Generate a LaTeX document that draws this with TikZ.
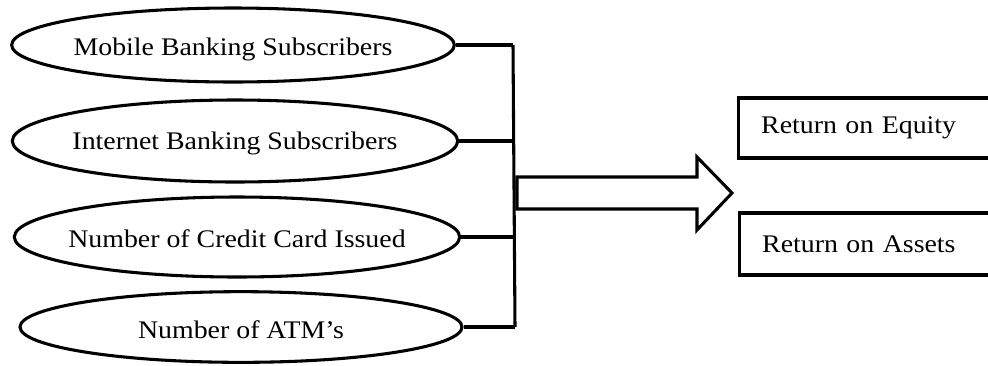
\documentclass[tikz,border=0pt]{standalone}
\usepackage{fontspec}
\setmainfont{Liberation Serif}[FakeStretch=1.1]
\usepackage{tikz}
\usetikzlibrary{shapes.geometric}

\begin{document}
\begin{tikzpicture}[x=0.75pt,y=-0.75pt,line width=2.3pt,
	every label/.style={font=\fontsize{19}{23}\selectfont, inner sep=0pt},
	oval node/.style={ellipse, draw, inner sep=0pt},
	box node/.style={rectangle, draw, anchor=west, text width=270pt, inner xsep=17pt, align=left, font=\fontsize{19}{23}\selectfont}]
	
	\useasboundingbox (0,0) rectangle (988,365);
	\clip (0,0) rectangle (988,365);
	
	\node[oval node, minimum width=332pt, minimum height=55.5pt, label={[yshift=-3pt]center:Mobile Banking Subscribers}] (1) at (233,45) {};
	\node[oval node, minimum width=334pt, minimum height=61.5pt, label={[yshift=-2pt]center:Internet Banking Subscribers}] (2) at (235,141) {};
	\node[oval node, minimum width=334pt, minimum height=60pt, label={[yshift=-1pt]center:Number of Credit Card Issued}] (3) at (237,237) {};
	\node[oval node, minimum width=331.5pt, minimum height=53pt, label={[yshift=-2pt]center:Number of ATM’s}] (4) at (241,327) {};
	
	\node[box node, minimum height=45pt] (5) at (737,128) {Return on Equity};
	\node[box node, minimum height=46.5pt] (6) at (738,244) {Return on Assets};
	
	\coordinate (top) at (513,45);
	\coordinate (bottom) at (515,327);
	
	\draw (top) -- (bottom);
	\draw (1.east) -- (1.east -| top);
	\draw (2.east) -- (2.east -| top);
	\draw (3.east) -- (3.east -| top);
	\draw (4.east) -- (4.east -| bottom);
	
	% block arrow
	\draw (517,177) -- (697,177) -- (697,157) -- (732,193) -- (697,230) -- (697,209) -- (517,209) -- cycle;
	
\end{tikzpicture}
\end{document}
